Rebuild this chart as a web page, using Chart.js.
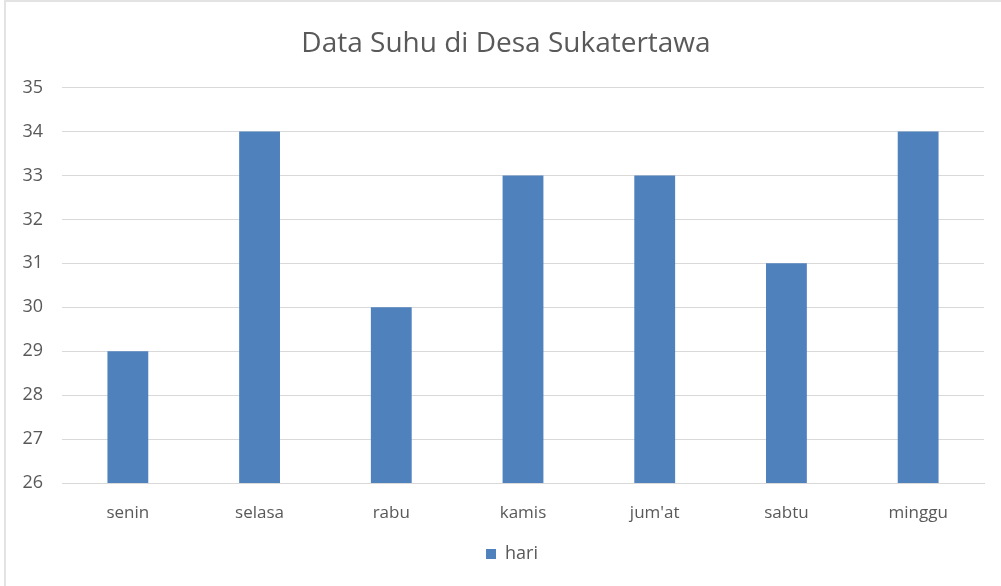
<!DOCTYPE html>
<html>
<head>
<meta charset="utf-8">
<script src="https://cdn.jsdelivr.net/npm/chart.js@4.4.0/dist/chart.umd.min.js"></script>
<style>
    html, body { margin: 0; padding: 0; background: #fff; }
    #wrap {
        position: relative;
        width: 997px;
        height: 586px;
        box-sizing: border-box;
        border-top: 2px solid #e3e3e3;
        border-left: 2px solid #e3e3e3;
        margin-left: 4px;
    }
</style>
</head>
<body>
<div id="wrap"><canvas id="chart"></canvas></div>
<script>
// Data
const days = ['senin', 'selasa', 'rabu', 'kamis', "jum'at", 'sabtu', 'minggu'];
const temps = [29, 34, 30, 33, 33, 31, 34];
const seriesName = 'hari';
const chartTitle = 'Data Suhu di Desa Sukatertawa';
const yMin = 26;
const yMax = 35;

const textColor = '#595959';
const gridColor = '#d9d9d9';
const barColor = '#4f81bd';
const fontFamily = '"Open Sans", "Liberation Sans", sans-serif';

// title and legend sit a bit right of the canvas centre in the original
const shiftBlocks = {
    id: 'shiftBlocks',
    afterLayout(chart) {
        chart.titleBlock.left += 11;
        chart.titleBlock.right += 11;
        chart.legend.left += 17;
        chart.legend.right += 17;
    }
};

const ctx = document.getElementById('chart').getContext('2d');
const chart = new Chart(ctx, {
    type: 'bar',
    data: {
        labels: days,
        datasets: [{
            label: seriesName,
            data: temps,
            backgroundColor: barColor,
            borderWidth: 0,
            categoryPercentage: 1,
            barPercentage: 0.31
        }]
    },
    options: {
        responsive: true,
        maintainAspectRatio: false,
        animation: false,
        layout: {
            padding: { top: 25, right: 17, bottom: 13, left: 0 }
        },
        plugins: {
            title: {
                display: true,
                text: chartTitle,
                color: textColor,
                font: { family: fontFamily, size: 28, weight: 'normal' },
                padding: { top: 0, bottom: 27 }
            },
            legend: {
                position: 'bottom',
                labels: {
                    color: textColor,
                    font: { family: fontFamily, size: 18 },
                    boxWidth: 10,
                    boxHeight: 10,
                    padding: 6
                }
            },
            tooltip: { enabled: false }
        },
        scales: {
            x: {
                grid: { display: false, drawTicks: false },
                border: { display: true, color: gridColor, width: 1 },
                ticks: {
                    color: textColor,
                    font: { family: fontFamily, size: 17 },
                    padding: 20
                },
                afterFit(scale) {
                    scale.height = 56;
                }
            },
            y: {
                min: yMin,
                max: yMax,
                grid: { color: gridColor, drawTicks: false },
                border: { display: false },
                ticks: {
                    stepSize: 1,
                    color: textColor,
                    font: { family: fontFamily, size: 18 },
                    padding: 19
                },
                afterFit(scale) {
                    scale.width = 56;
                }
            }
        }
    },
    plugins: [shiftBlocks]
});
</script>
</body>
</html>
